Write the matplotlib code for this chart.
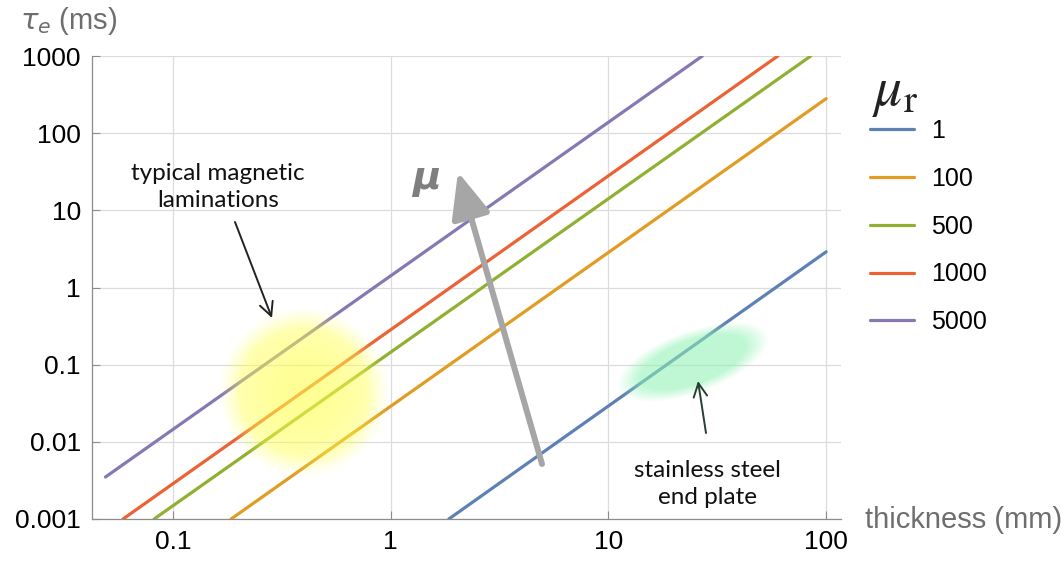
import numpy as np
import matplotlib
matplotlib.use("Agg")
import matplotlib.pyplot as plt
from matplotlib.patches import FancyArrowPatch, ArrowStyle
from matplotlib.ticker import FixedLocator, NullLocator

# ---- data ----
mu_r_labels = ["1", "100", "500", "1000", "5000"]
colors = ["#5E81B5", "#E19C24", "#8FB032", "#EB6235", "#8778B3"]
# line end points: thickness (mm) and tau_e (ms)
x_start = [1.85, 0.185, 0.082, 0.059, 0.049]
x_end = [100.0, 100.0, 85.0, 60.0, 27.0]
y_start = [0.001, 0.001, 0.001, 0.001, 0.0035]
y_end = [2.9, 280.0, 1000.0, 1000.0, 1000.0]

y_ticks = [0.001, 0.01, 0.1, 1, 10, 100, 1000]
y_tick_labels = ["0.001", "0.01", "0.1", "1", "10", "100", "1000"]
x_ticks = [0.1, 1, 10, 100]
x_tick_labels = ["0.1", "1", "10", "100"]

W, H = 1064, 561
fig = plt.figure(figsize=(W / 100, H / 100), dpi=100)
ax = fig.add_axes([92 / W, 1 - 519 / H, (841 - 92) / W, (519 - 56) / H])
ax.set_xscale("log")
ax.set_yscale("log")
ax.set_xlim(0.0425, 117)
ax.set_ylim(0.001, 1000)

lines = []
for lab, c, x0, x1, y0, y1 in zip(mu_r_labels, colors, x_start, x_end, y_start, y_end):
    ln, = ax.plot([x0, x1], [y0, y1], color=c, lw=2.3, solid_capstyle="round", label=lab, zorder=3)
    lines.append(ln)

ax.yaxis.set_major_locator(FixedLocator(y_ticks))
ax.yaxis.set_minor_locator(NullLocator())
ax.set_yticklabels(y_tick_labels)
ax.xaxis.set_major_locator(FixedLocator(x_ticks))
ax.xaxis.set_minor_locator(NullLocator())
ax.set_xticklabels(x_tick_labels)
tick_font = ["Liberation Sans", "DejaVu Sans"]
for t in ax.get_xticklabels() + ax.get_yticklabels():
    t.set_family(tick_font)
    t.set_fontsize(19)
ax.tick_params(direction="in", length=6, width=0.8, color="#8c8c8c", pad=8)
ax.grid(True, color="#dcdcdc", lw=0.9)
ax.set_axisbelow(True)
for s in ["top", "right"]:
    ax.spines[s].set_visible(False)
for s in ["left", "bottom"]:
    ax.spines[s].set_color("#8c8c8c")
    ax.spines[s].set_linewidth(0.9)

leg = ax.legend(handles=lines, loc="upper left", bbox_to_anchor=(870 / W, 1 - 119 / H),
                bbox_transform=fig.transFigure, frameon=False, prop={"family": tick_font, "size": 18},
                handlelength=1.75, handletextpad=0.7, labelspacing=0.95, borderpad=0, borderaxespad=0)
for h in leg.legend_handles:
    h.set_linewidth(2.3)

# axis labels
fig.text(20 / W, 1 - 21 / H, r"$\tau_e$ (ms)", color="#6e6e6e", fontsize=21,
         family=tick_font, va="center", ha="left", math_fontfamily="dejavusans")
fig.text(865 / W, 1 - 520 / H, "thickness (mm)", color="#6e6e6e", fontsize=21,
         family=tick_font, va="center", ha="left")
fig.text(872 / W, 1 - 92 / H, r"$\mu_{\mathrm{r}}$", color="#222222", fontsize=40,
         va="center", ha="left", math_fontfamily="stix")

# ---- overlay (pixel coordinates) for highlights and annotations ----
ov = fig.add_axes([0, 0, 1, 1])
ov.set_xlim(0, W)
ov.set_ylim(H, 0)
ov.axis("off")
ov.set_zorder(5)
ov.patch.set_visible(False)

yy, xx = np.mgrid[0:H, 0:W] + 0.5
img = np.zeros((H, W, 4))
# yellow blob
r = np.hypot(xx - 304, yy - 392) / 85.0
a_y = (0.6 - 0.28 * np.clip(r, 0, 1) ** 2) * np.clip((1.0 - r) / 0.25, 0, 1)
# green blob (rotated ellipse)
th = np.deg2rad(-20)
dx, dy = xx - 693, yy - 362
u = (dx * np.cos(th) + dy * np.sin(th)) / 80.0
v = (-dx * np.sin(th) + dy * np.cos(th)) / 31.0
rg = np.hypot(u, v)
a_g = 0.55 * np.clip((1.0 - rg) / 0.3, 0, 1)
yel = np.array([1.0, 1.0, 0.3])
grn = np.array([0.55, 0.95, 0.70])
alpha = a_y + a_g * (1 - a_y)
rgb = (yel[None, None, :] * a_y[..., None] + grn[None, None, :] * (a_g * (1 - a_y))[..., None]) / np.maximum(alpha, 1e-6)[..., None]
img[..., :3] = rgb
img[..., 3] = alpha
ov.imshow(img, extent=(0, W, H, 0), aspect="auto", interpolation="bilinear", zorder=1)

ann_font = ["Lato", "DejaVu Sans"]
ov.text(218, 187, "typical magnetic\nlaminations", ha="center", va="center", fontsize=17.5,
        family=ann_font, color="#111111", linespacing=1.38)
ov.text(707, 484, "stainless steel\nend plate", ha="center", va="center", fontsize=17.5,
        family=ann_font, color="#111111", linespacing=1.38)

ov.add_patch(FancyArrowPatch((235, 222), (272, 318), arrowstyle=ArrowStyle("->", head_length=0.7, head_width=0.35),
                             mutation_scale=14, color="#222222", lw=1.4, shrinkA=0, shrinkB=0, zorder=3))
ov.add_patch(FancyArrowPatch((706, 433), (698, 381), arrowstyle=ArrowStyle("->", head_length=0.7, head_width=0.35),
                             mutation_scale=14, color="#2a3f33", lw=1.4, shrinkA=0, shrinkB=0, zorder=3))
ov.add_patch(FancyArrowPatch((542, 464), (458, 172), arrowstyle=ArrowStyle("-|>", head_length=1.4, head_width=0.6),
                             mutation_scale=20, color="#a6a6a6", lw=4.3, shrinkA=0, shrinkB=0, zorder=4))
ov.text(426, 178, "μ", ha="center", va="center", fontsize=28, fontweight="bold", style="italic",
        color="#7f7f7f", family=["DejaVu Sans"])

fig.savefig("out.png", dpi=100)
